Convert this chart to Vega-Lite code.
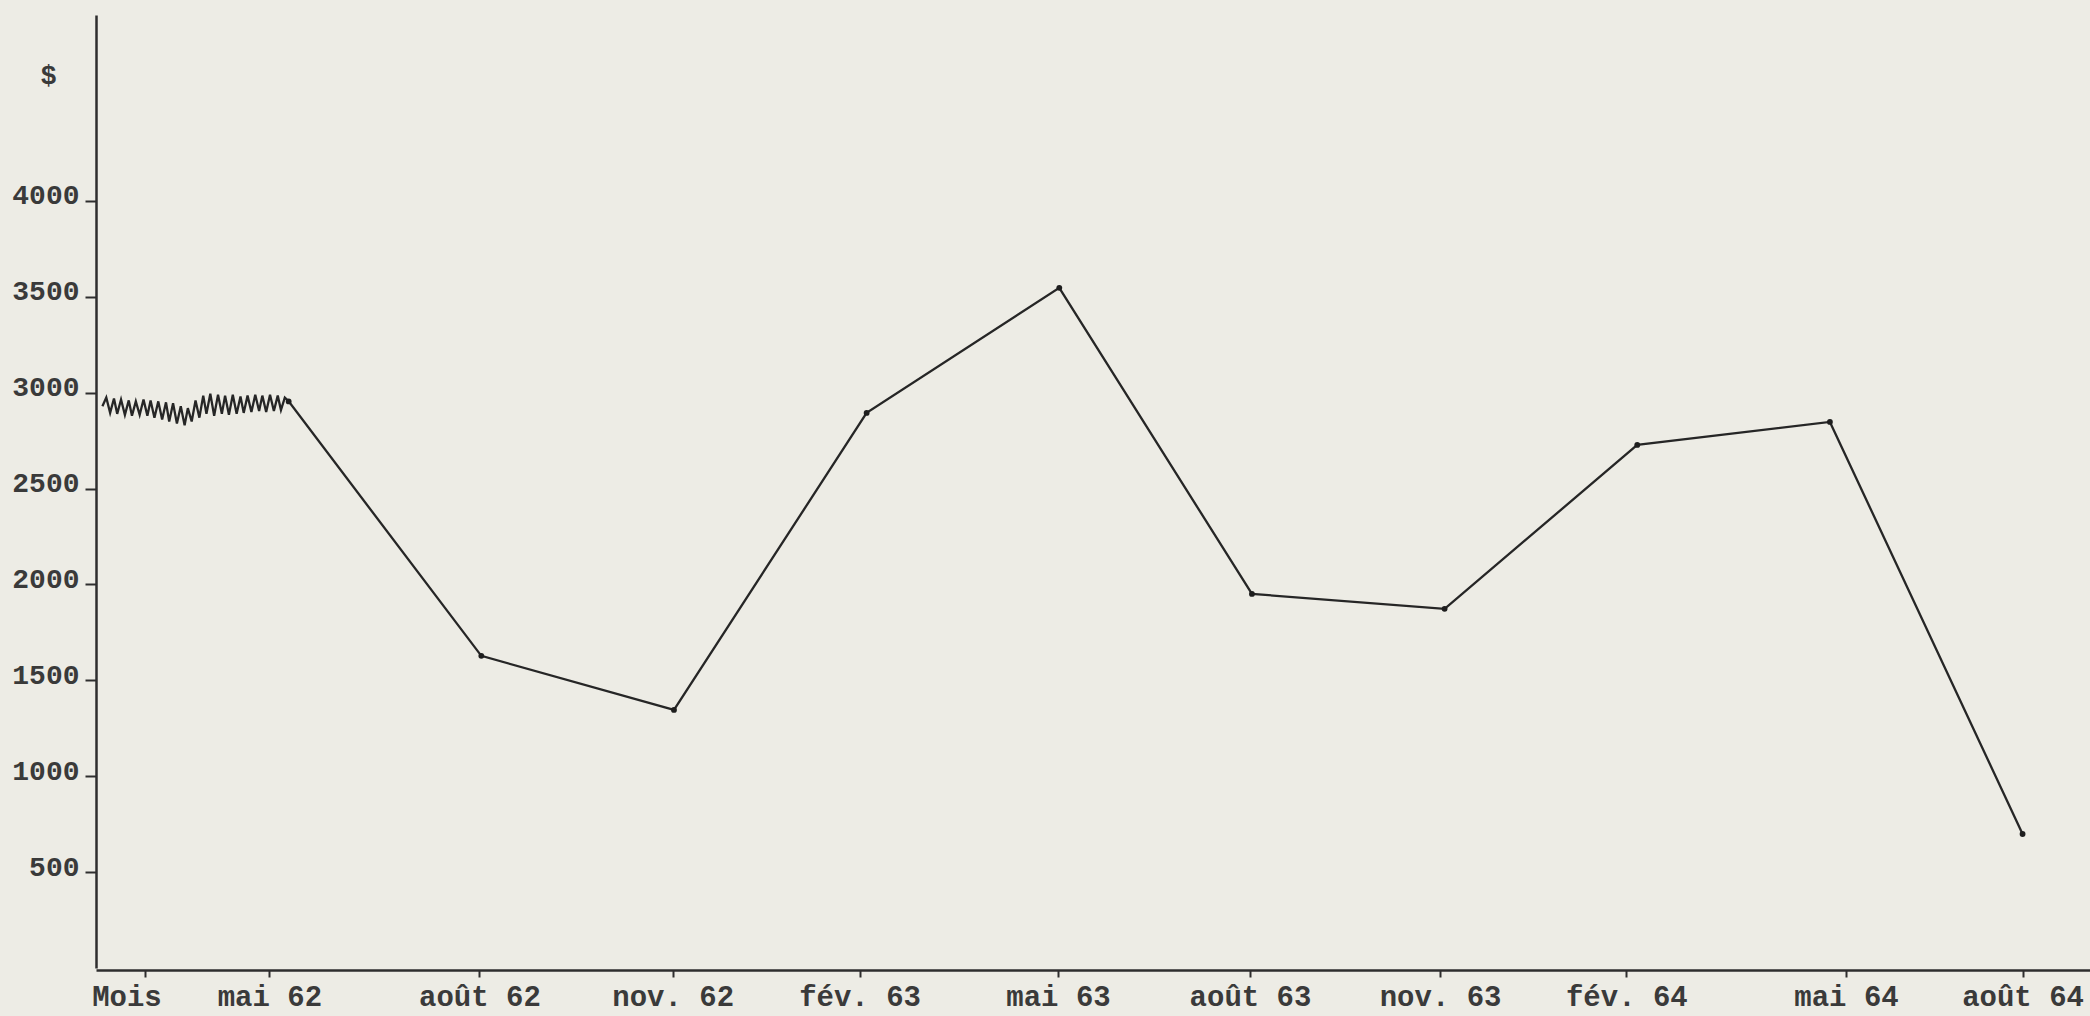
{
  "$schema": "https://vega.github.io/schema/vega-lite/v6.json",
  "width": 1994,
  "height": 953,
  "autosize": {"type": "none"},
  "padding": {"left": 96, "top": 15, "right": 0, "bottom": 48},
  "background": "#edece5",
  "config": {
    "view": {"stroke": null},
    "axis": {"grid": false, "labelFont": "Liberation Mono", "titleFont": "Liberation Mono", "labelColor": "#3a3a3a", "labelFontWeight": "bold", "domainColor": "#2e2e2e", "tickColor": "#2e2e2e"}
  },
  "data": {
    "values": [
      {"mois": -2.90, "montant": 2930, "type": "zigzag"},
      {"mois": -2.84, "montant": 2975, "type": "zigzag"},
      {"mois": -2.78, "montant": 2895, "type": "zigzag"},
      {"mois": -2.72, "montant": 2970, "type": "zigzag"},
      {"mois": -2.67, "montant": 2890, "type": "zigzag"},
      {"mois": -2.61, "montant": 2965, "type": "zigzag"},
      {"mois": -2.55, "montant": 2885, "type": "zigzag"},
      {"mois": -2.49, "montant": 2960, "type": "zigzag"},
      {"mois": -2.44, "montant": 2880, "type": "zigzag"},
      {"mois": -2.38, "montant": 2955, "type": "zigzag"},
      {"mois": -2.32, "montant": 2885, "type": "zigzag"},
      {"mois": -2.26, "montant": 2965, "type": "zigzag"},
      {"mois": -2.20, "montant": 2880, "type": "zigzag"},
      {"mois": -2.15, "montant": 2960, "type": "zigzag"},
      {"mois": -2.09, "montant": 2870, "type": "zigzag"},
      {"mois": -2.03, "montant": 2955, "type": "zigzag"},
      {"mois": -1.97, "montant": 2860, "type": "zigzag"},
      {"mois": -1.91, "montant": 2950, "type": "zigzag"},
      {"mois": -1.86, "montant": 2850, "type": "zigzag"},
      {"mois": -1.80, "montant": 2945, "type": "zigzag"},
      {"mois": -1.74, "montant": 2840, "type": "zigzag"},
      {"mois": -1.68, "montant": 2930, "type": "zigzag"},
      {"mois": -1.62, "montant": 2830, "type": "zigzag"},
      {"mois": -1.57, "montant": 2920, "type": "zigzag"},
      {"mois": -1.51, "montant": 2850, "type": "zigzag"},
      {"mois": -1.45, "montant": 2960, "type": "zigzag"},
      {"mois": -1.39, "montant": 2870, "type": "zigzag"},
      {"mois": -1.33, "montant": 2985, "type": "zigzag"},
      {"mois": -1.28, "montant": 2890, "type": "zigzag"},
      {"mois": -1.22, "montant": 2995, "type": "zigzag"},
      {"mois": -1.16, "montant": 2880, "type": "zigzag"},
      {"mois": -1.10, "montant": 2990, "type": "zigzag"},
      {"mois": -1.04, "montant": 2890, "type": "zigzag"},
      {"mois": -0.99, "montant": 2985, "type": "zigzag"},
      {"mois": -0.93, "montant": 2885, "type": "zigzag"},
      {"mois": -0.87, "montant": 2990, "type": "zigzag"},
      {"mois": -0.81, "montant": 2890, "type": "zigzag"},
      {"mois": -0.75, "montant": 2980, "type": "zigzag"},
      {"mois": -0.70, "montant": 2895, "type": "zigzag"},
      {"mois": -0.64, "montant": 2985, "type": "zigzag"},
      {"mois": -0.58, "montant": 2900, "type": "zigzag"},
      {"mois": -0.52, "montant": 2990, "type": "zigzag"},
      {"mois": -0.46, "montant": 2905, "type": "zigzag"},
      {"mois": -0.41, "montant": 2985, "type": "zigzag"},
      {"mois": -0.35, "montant": 2900, "type": "zigzag"},
      {"mois": -0.29, "montant": 2990, "type": "zigzag"},
      {"mois": -0.23, "montant": 2905, "type": "zigzag"},
      {"mois": -0.17, "montant": 2985, "type": "zigzag"},
      {"mois": -0.12, "montant": 2910, "type": "zigzag"},
      {"mois": -0.06, "montant": 2975, "type": "zigzag"},
      {"mois": 0, "montant": 2955, "type": "relevé"},
      {"mois": 3, "montant": 1628, "type": "relevé"},
      {"mois": 6, "montant": 1346, "type": "relevé"},
      {"mois": 9, "montant": 2895, "type": "relevé"},
      {"mois": 12, "montant": 3547, "type": "relevé"},
      {"mois": 15, "montant": 1951, "type": "relevé"},
      {"mois": 18, "montant": 1873, "type": "relevé"},
      {"mois": 21, "montant": 2728, "type": "relevé"},
      {"mois": 24, "montant": 2848, "type": "relevé"},
      {"mois": 27, "montant": 699, "type": "relevé"}
    ]
  },
  "encoding": {
    "x": {
      "field": "mois", "type": "quantitative",
      "scale": {"domain": [-3.0, 28.05], "nice": false, "zero": false},
      "axis": {
        "title": null,
        "values": [-2.23, -0.30, 2.97, 5.98, 8.89, 11.98, 14.97, 17.93, 20.83, 24.25, 27.0],
        "labelExpr": "datum.value < -1 ? 'Mois' : datum.value < 1 ? 'mai 62' : datum.value < 4 ? 'août 62' : datum.value < 7 ? 'nov. 62' : datum.value < 10 ? 'fév. 63' : datum.value < 13 ? 'mai 63' : datum.value < 16 ? 'août 63' : datum.value < 19 ? 'nov. 63' : datum.value < 22 ? 'fév. 64' : datum.value < 25 ? 'mai 64' : 'août 64'",
        "labelFontSize": 29,
        "labelPadding": 5,
        "labelOffset": {"condition": {"test": "datum.value < -1", "value": -19}, "value": 0},
        "tickSize": 7,
        "tickWidth": 2,
        "domainWidth": 2.5,
        "offset": 2,
        "labelFlush": false,
        "labelOverlap": false,
        "labelBound": false
      }
    },
    "y": {
      "field": "montant", "type": "quantitative",
      "scale": {"domain": [0, 4970], "nice": false},
      "axis": {
        "title": "$",
        "titleAngle": 0,
        "titleX": -48,
        "titleY": 74,
        "titleFontSize": 27,
        "titleFontWeight": "bold",
        "titleColor": "#3a3a3a",
        "titleAlign": "center",
        "values": [500, 1000, 1500, 2000, 2500, 3000, 3500, 4000],
        "format": "d",
        "labelFontSize": 28,
        "labelPadding": 6,
        "labelBaseline": "alphabetic",
        "labelOffset": 3,
        "tickSize": 11,
        "tickWidth": 2,
        "domainWidth": 2.5
      }
    }
  },
  "layer": [
    {"mark": {"type": "line", "color": "#262626", "strokeWidth": 2.3}},
    {
      "transform": [{"filter": "datum.type === 'relevé'"}],
      "mark": {"type": "point", "filled": true, "color": "#1e1e1e", "size": 34, "opacity": 1}
    }
  ]
}
